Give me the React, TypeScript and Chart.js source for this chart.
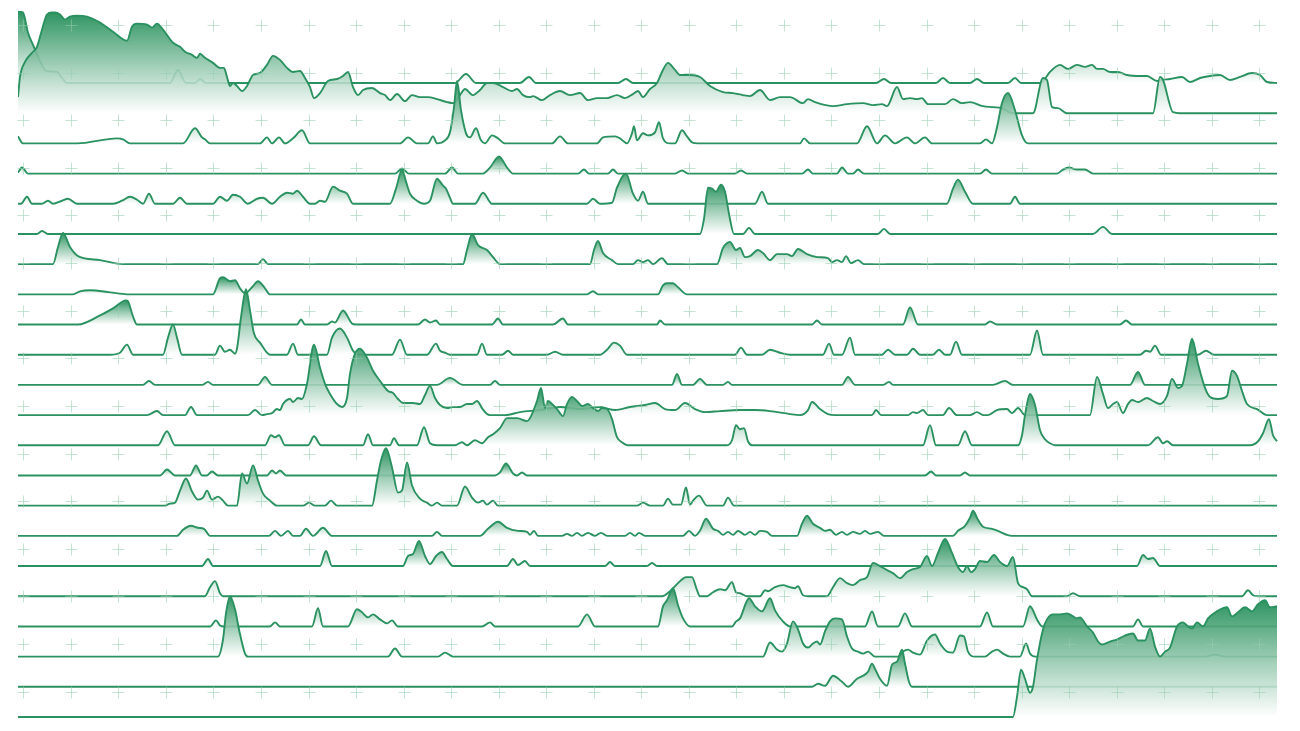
import { useEffect, useRef } from "react";
import { Chart, registerables } from "chart.js";

Chart.register(...registerables);

// Each series: flat list of [time, value] pairs (value = height above its own baseline)
const series00 = [1.8,71, 2.3,70, 2.8,50, 3.3,38, 4.0,22, 4.6,12, 5.7,11, 6.2,5, 6.7,0, 17.0,0, 17.8,13, 18.6,0, 19.5,0, 20.0,4, 20.6,0, 45.5,0, 46.6,9, 47.6,0, 52.0,0, 52.9,6, 53.6,0, 61.8,0, 62.6,4, 63.3,0, 87.6,0, 88.4,4, 89.1,0, 93.6,0, 94.3,5, 95.0,0, 97.0,0, 97.7,4, 98.4,0, 100.8,0, 101.5,5, 102.1,0, 104.0,0, 104.4,3, 105.0,11, 106.0,18, 106.8,14, 107.7,18, 108.5,16, 109.2,18, 109.7,14, 110.3,14, 111.0,11, 111.8,11, 112.7,8, 114.0,7, 114.7,7, 115.7,2, 116.2,3, 117.0,4, 118.2,6, 119.0,1, 120.0,5, 121.0,7, 122.0,8, 123.0,3, 124.0,6, 125.2,10, 126.0,8, 126.7,1, 127.7,0];
const series01 = [1.8,16, 2.0,36, 2.5,51, 3.2,60, 3.7,66, 4.2,83, 4.7,98, 5.2,100, 5.5,100, 6.0,98, 6.5,93, 7.0,96, 7.7,97, 8.7,96, 10.0,90, 11.3,81, 12.7,72, 13.2,86, 13.7,89, 14.7,88, 15.2,85, 15.7,89, 16.3,83, 17.3,70, 18.0,66, 18.5,61, 19.2,58, 19.7,55, 20.0,59, 20.5,55, 21.3,50, 22.0,45, 22.4,45, 22.7,36, 23.0,27, 23.3,30, 23.7,27, 24.2,22, 24.7,27, 25.3,38, 26.0,40, 26.7,48, 27.3,57, 28.0,53, 28.7,45, 29.3,41, 30.0,42, 30.5,35, 31.0,26, 31.4,15, 32.0,20, 32.8,32, 33.7,34, 34.3,37, 34.8,41, 35.3,26, 35.8,18, 36.3,23, 37.2,25, 38.0,20, 38.5,18, 39.0,13, 39.7,19, 40.5,12, 41.2,18, 42.0,16, 42.8,16, 43.7,14, 44.7,11, 45.3,10, 46.0,18, 46.5,24, 47.3,18, 48.0,23, 48.7,30, 49.3,30, 50.3,26, 51.2,22, 51.7,24, 52.3,18, 53.0,16, 53.3,17, 54.2,13, 55.0,18, 56.0,22, 57.0,18, 58.0,20, 58.8,13, 59.7,15, 60.7,15, 61.7,18, 62.5,15, 63.3,19, 63.8,22, 64.3,16, 65.0,24, 65.7,30, 66.2,41, 66.8,50, 67.5,43, 68.0,38, 69.0,38, 70.0,36, 71.0,27, 72.3,21, 73.3,20, 74.3,18, 75.0,17, 76.0,23, 77.0,13, 78.0,16, 79.0,16, 80.3,10, 80.8,14, 81.5,11, 83.3,7, 84.7,9, 86.3,10, 87.3,8, 88.2,9, 88.7,7, 89.7,26, 90.3,14, 91.0,15, 91.7,14, 92.2,15, 92.8,9, 94.5,9, 95.3,14, 96.2,10, 97.0,11, 98.3,7, 99.3,6, 100.2,5, 101.2,0, 103.3,0, 104.3,35, 104.7,33, 105.2,6, 105.8,5, 106.7,0, 115.3,0, 116.0,36, 116.3,33, 117.3,1, 118.0,0, 127.7,0];
const series02 = [1.8,7, 2.3,0, 7.7,0, 11.7,5, 12.3,4, 13.0,0, 18.3,0, 19.5,15, 20.2,6, 20.5,4, 21.0,0, 26.0,0, 26.7,6, 27.2,0, 27.9,6, 28.5,0, 29.3,5, 30.2,13, 31.0,0, 40.0,0, 40.8,6, 41.7,0, 42.8,0, 43.3,7, 43.7,0, 44.5,3, 45.0,11, 45.4,36, 45.7,62, 46.1,33, 46.6,10, 47.0,6, 47.6,15, 48.1,3, 48.5,0, 49.2,8, 49.8,5, 50.5,0, 55.2,0, 56.0,7, 56.8,0, 59.7,0, 60.3,6, 61.5,7, 62.0,5, 62.7,0, 63.2,10, 63.4,17, 63.7,3, 64.3,10, 64.8,8, 65.5,11, 65.9,21, 66.3,5, 67.0,0, 67.5,0, 68.2,13, 68.7,7, 69.2,1, 69.8,0, 80.0,0, 80.4,5, 81.0,0, 85.7,0, 86.7,17, 87.7,0, 88.5,8, 89.5,0, 90.7,6, 91.5,0, 92.5,6, 93.2,0, 98.0,0, 98.6,4, 99.2,0, 99.7,16, 100.2,40, 100.8,50, 101.5,33, 102.2,8, 102.8,0, 127.7,0];
const series03 = [1.8,1, 2.2,6, 2.8,0, 39.5,0, 40.2,5, 40.9,0, 44.5,0, 45.2,6, 45.8,0, 48.3,0, 49.0,6, 49.9,17, 50.7,6, 51.3,0, 57.8,0, 58.4,4, 58.9,0, 60.8,0, 61.3,4, 61.8,0, 67.5,0, 68.2,3, 68.8,0, 73.5,0, 74.1,3, 74.7,0, 80.2,0, 80.8,4, 81.3,0, 83.7,0, 84.2,6, 84.8,0, 85.3,0, 85.8,4, 86.4,0, 98.0,0, 98.6,4, 99.2,0, 105.7,0, 106.3,4, 106.9,6, 107.7,4, 108.5,4, 109.3,0, 127.7,0];
const series04 = [1.8,0, 2.1,0, 2.7,7, 3.2,0, 4.2,0, 4.8,3, 5.3,0, 6.2,3, 6.8,5, 7.7,0, 11.3,0, 12.2,3, 13.0,7, 13.7,4, 14.3,0, 14.9,10, 15.5,0, 17.3,0, 18.0,6, 18.7,0, 21.3,0, 22.0,7, 22.7,3, 23.3,9, 24.0,7, 24.8,0, 25.7,5, 26.3,6, 27.2,0, 28.0,7, 28.7,11, 29.3,10, 29.7,13, 30.3,7, 31.0,0, 31.5,0, 32.0,3, 32.5,2, 33.3,17, 34.0,13, 34.7,10, 35.3,0, 39.0,0, 39.6,15, 40.2,34, 40.6,22, 41.0,10, 41.7,3, 42.4,0, 43.0,3, 43.7,25, 44.0,22, 44.3,18, 44.6,15, 45.0,6, 45.3,0, 47.5,0, 48.3,11, 49.2,0, 58.7,0, 59.3,5, 60.0,0, 61.2,1, 61.7,16, 62.6,30, 63.3,10, 63.8,3, 64.3,12, 64.8,0, 75.5,0, 76.2,12, 76.8,0, 94.7,0, 95.3,15, 95.8,24, 96.5,12, 97.3,0, 101.0,0, 101.5,7, 102.0,0, 127.7,0];
const series05 = [1.8,0, 3.7,0, 4.2,3, 4.8,0, 70.0,0, 70.4,15, 70.8,46, 71.2,45, 71.6,42, 72.1,49, 72.5,42, 72.9,20, 73.4,0, 74.3,0, 74.9,6, 75.5,0, 87.8,0, 88.4,5, 89.0,0, 109.3,0, 110.3,7, 111.2,0, 127.7,0];
const series06 = [1.8,0, 5.3,0, 5.8,17, 6.3,31, 7.0,17, 7.8,8, 10.0,4, 12.3,0, 25.8,0, 26.3,5, 26.8,0, 46.3,0, 46.7,14, 47.2,30, 47.8,19, 48.7,14, 49.3,7, 50.0,0, 59.0,0, 59.4,14, 59.8,23, 60.3,11, 61.2,4, 61.8,0, 63.3,0, 63.8,4, 64.3,2, 64.8,4, 65.3,0, 66.2,6, 66.8,0, 71.7,0, 72.3,16, 73.0,22, 73.6,14, 74.0,16, 74.5,7, 75.0,8, 75.8,14, 76.3,11, 77.0,4, 77.7,10, 78.7,10, 79.2,8, 79.8,15, 80.7,10, 81.7,7, 82.8,6, 83.2,2, 83.7,4, 84.2,2, 84.6,8, 85.1,1, 85.8,4, 86.4,0, 127.7,0];
const series07 = [1.8,0, 7.3,0, 8.0,3, 9.0,4, 11.0,2, 12.7,0, 21.3,0, 22.0,16, 22.3,17, 23.0,13, 23.5,14, 24.0,6, 24.5,1, 25.2,7, 25.8,13, 26.5,6, 27.0,0, 58.7,0, 59.3,3, 59.8,0, 65.8,0, 66.3,9, 66.7,11, 67.3,11, 67.8,7, 68.7,0, 127.7,0];
const series08 = [1.8,0, 7.8,0, 10.0,9, 11.3,16, 12.6,24, 12.8,23, 13.3,8, 13.7,0, 29.7,0, 30.1,5, 30.5,0, 32.7,0, 33.2,3, 33.5,2, 34.3,14, 35.2,1, 35.6,0, 41.8,0, 42.5,5, 43.0,2, 43.6,4, 44.0,0, 49.2,0, 49.8,6, 50.3,0, 55.3,0, 56.3,6, 56.8,0, 65.7,0, 66.0,4, 66.5,0, 81.2,0, 81.7,4, 82.2,0, 90.3,0, 91.0,17, 91.8,0, 98.5,0, 99.0,3, 99.7,0, 112.0,0, 112.6,4, 113.2,0, 127.7,0];
const series09 = [1.8,0, 11.0,0, 12.0,2, 12.7,10, 13.3,0, 16.3,0, 16.8,17, 17.3,30, 17.7,17, 18.2,0, 21.5,0, 22.0,9, 22.5,3, 23.0,5, 23.5,1, 23.7,6, 24.1,37, 24.6,65, 25.0,44, 25.4,21, 26.0,12, 26.7,2, 27.0,0, 28.7,0, 29.3,11, 29.8,0, 32.7,0, 33.2,17, 34.0,26, 34.7,17, 35.3,4, 36.0,0, 39.2,0, 40.0,15, 40.7,0, 42.7,0, 43.6,11, 44.0,4, 44.5,2, 45.0,0, 47.7,0, 48.2,11, 48.7,0, 50.2,0, 50.8,4, 51.3,0, 54.7,0, 55.5,3, 56.3,0, 60.0,0, 60.7,5, 61.4,12, 62.0,9, 62.7,0, 73.5,0, 74.1,7, 74.7,0, 76.2,0, 77.0,5, 78.0,2, 79.0,0, 82.3,0, 82.9,11, 83.4,0, 84.2,0, 85.0,17, 85.5,0, 88.2,0, 88.8,5, 89.5,0, 90.7,0, 91.3,6, 92.0,0, 93.3,0, 93.9,5, 94.5,0, 95.0,0, 95.6,13, 96.2,0, 103.0,0, 103.7,24, 104.3,0, 114.0,0, 114.6,4, 115.0,3, 115.5,9, 116.1,0, 119.8,0, 120.6,4, 121.4,0, 127.7,0];
const series10 = [1.8,0, 14.3,0, 14.9,4, 15.5,0, 20.2,0, 20.8,3, 21.3,0, 25.8,0, 26.5,8, 27.2,0, 43.7,0, 45.0,7, 46.3,0, 49.0,0, 49.5,4, 50.0,0, 67.2,0, 67.7,11, 68.2,0, 69.3,0, 70.0,6, 70.7,0, 72.3,0, 72.8,3, 73.2,0, 84.2,0, 84.8,8, 85.5,0, 88.3,0, 88.9,3, 89.3,0, 99.3,0, 100.5,4, 101.3,0, 113.0,0, 113.8,13, 114.5,0, 127.7,0];
const series11 = [1.8,0, 14.7,0, 15.7,4, 16.3,0, 18.5,0, 19.1,8, 19.7,0, 24.8,0, 25.5,5, 26.2,0, 26.7,1, 27.2,2, 27.7,6, 28.0,5, 28.3,11, 29.0,16, 29.3,13, 29.8,17, 30.2,16, 30.7,31, 31.4,70, 32.0,47, 32.5,31, 33.0,21, 33.7,11, 34.2,8, 34.7,17, 35.0,41, 35.5,61, 36.0,66, 36.7,57, 37.3,44, 38.0,34, 38.8,24, 39.3,22, 39.8,16, 40.3,12, 41.3,12, 42.0,11, 42.5,20, 43.0,29, 43.5,17, 44.0,10, 44.7,7, 45.3,8, 46.0,8, 46.7,11, 47.2,11, 47.7,14, 48.2,7, 48.7,1, 49.0,0, 50.5,0, 52.0,3, 54.0,5, 56.0,8, 58.0,6, 60.0,8, 61.5,5, 63.0,8, 64.5,10, 65.5,12, 66.5,6, 67.5,5, 68.5,12, 69.5,6, 70.5,3, 72.0,4, 74.0,5, 75.5,5, 77.0,4, 79.0,1, 80.0,0, 80.8,5, 81.2,13, 82.0,6, 82.8,1, 83.5,0, 87.2,0, 87.6,5, 88.1,0, 90.8,0, 91.3,3, 91.7,2, 92.3,5, 92.8,0, 94.3,0, 94.9,7, 95.7,0, 97.0,0, 97.7,3, 98.3,0, 98.8,0, 99.7,5, 100.7,6, 101.2,2, 101.8,7, 102.5,0, 109.0,0, 109.7,38, 110.3,21, 110.8,7, 111.3,11, 111.7,13, 112.3,2, 112.8,11, 113.2,15, 113.8,13, 114.7,17, 115.3,14, 116.0,11, 116.7,19, 117.2,36, 117.8,27, 118.2,29, 118.7,51, 119.2,76, 119.8,51, 120.5,27, 121.0,18, 121.8,16, 122.7,19, 123.2,44, 123.7,39, 124.2,24, 124.7,11, 125.7,6, 126.7,0, 127.7,0];
const series12 = [1.8,0, 15.8,0, 16.7,14, 17.5,0, 26.5,0, 27.1,10, 27.5,8, 27.9,10, 28.5,0, 30.8,0, 31.4,9, 32.1,0, 36.3,0, 36.8,11, 37.3,0, 39.0,0, 39.4,7, 39.9,0, 41.7,0, 42.4,18, 43.0,2, 43.7,0, 45.5,0, 46.2,3, 46.7,0, 47.5,5, 48.2,2, 48.8,8, 49.3,11, 50.0,17, 50.7,27, 51.7,27, 52.7,24, 53.0,27, 53.7,44, 54.1,57, 54.5,37, 54.8,44, 55.2,41, 55.7,36, 56.3,29, 56.7,41, 57.2,48, 57.7,44, 58.2,39, 58.8,41, 59.3,37, 59.8,34, 60.2,37, 60.7,36, 61.2,26, 61.7,8, 62.2,3, 62.8,0, 72.7,0, 73.2,5, 73.6,20, 74.0,16, 74.4,17, 74.8,4, 75.2,0, 92.3,0, 93.0,20, 93.6,0, 95.8,0, 96.5,14, 97.2,0, 101.8,0, 102.2,10, 102.5,30, 103.0,51, 103.5,40, 104.0,15, 104.5,6, 105.0,2, 105.5,0, 114.8,0, 115.8,8, 116.3,2, 116.7,4, 117.3,0, 125.0,0, 125.8,4, 126.3,12, 126.9,26, 127.3,10, 127.7,4];
const series13 = [1.8,0, 16.0,0, 16.7,6, 17.5,0, 19.0,0, 19.6,10, 20.2,0, 20.7,0, 21.2,4, 21.8,0, 26.7,0, 27.2,5, 27.6,2, 28.0,5, 28.6,0, 49.5,0, 50.0,3, 50.6,12, 51.3,2, 51.7,0, 52.2,3, 52.7,0, 92.5,0, 93.1,4, 93.6,0, 96.0,0, 96.5,3, 97.0,0, 127.7,0];
const series14 = [1.8,0, 16.5,0, 17.0,2, 17.5,3, 18.0,15, 18.6,27, 19.2,14, 19.8,6, 20.3,8, 20.7,15, 21.2,6, 21.8,9, 22.3,5, 22.8,0, 23.7,0, 24.2,32, 24.7,22, 25.3,40, 25.8,25, 26.3,12, 27.0,5, 27.7,0, 30.3,0, 30.9,3, 31.5,0, 32.5,0, 33.1,5, 33.7,0, 37.2,0, 37.7,25, 38.1,45, 38.6,57, 39.2,38, 39.8,13, 40.2,15, 40.7,43, 41.2,20, 42.0,7, 42.7,3, 43.2,0, 43.7,3, 44.2,0, 45.7,0, 46.5,19, 47.2,8, 47.8,3, 48.3,5, 48.7,1, 49.3,5, 49.8,0, 63.7,0, 64.3,3, 65.0,0, 66.3,0, 66.8,7, 67.3,1, 68.1,1, 68.6,18, 69.0,1, 69.3,5, 69.9,10, 70.7,0, 72.3,0, 72.8,8, 73.4,0, 127.7,0];
const series15 = [1.8,0, 17.7,0, 18.3,6, 19.1,10, 19.8,8, 20.4,7, 21.0,0, 26.9,0, 27.5,5, 28.1,0, 28.8,5, 29.3,0, 30.0,0, 30.6,7, 31.3,0, 32.3,8, 33.2,0, 43.2,0, 43.7,4, 44.2,0, 48.0,0, 48.8,7, 49.8,14, 50.7,8, 51.8,5, 52.7,4, 53.0,1, 53.4,5, 53.8,0, 56.2,0, 56.7,2, 57.2,0, 57.7,3, 58.2,0, 58.8,3, 59.5,0, 60.1,3, 60.7,0, 62.5,0, 63.0,3, 63.5,0, 63.9,3, 64.5,0, 68.3,0, 68.9,5, 69.5,0, 70.0,5, 70.6,17, 71.3,7, 71.8,5, 72.3,1, 72.8,4, 73.3,1, 73.8,5, 74.5,1, 75.0,4, 75.5,1, 76.0,5, 76.7,4, 77.2,0, 79.7,0, 80.2,12, 80.7,20, 81.3,12, 82.0,8, 82.5,5, 83.0,6, 83.6,1, 84.2,4, 84.7,1, 85.3,4, 86.0,2, 86.5,5, 87.0,2, 87.8,4, 88.4,0, 95.3,0, 95.8,5, 96.5,10, 97.0,18, 97.3,25, 97.8,16, 98.3,9, 99.2,7, 100.0,4, 100.7,1, 101.2,0, 127.7,0];
const series16 = [1.8,0, 20.2,0, 20.8,7, 21.3,0, 32.0,0, 32.6,15, 33.2,0, 40.3,0, 40.8,10, 41.3,12, 41.9,25, 42.5,10, 43.0,2, 43.6,10, 44.2,14, 44.7,7, 45.3,0, 50.7,0, 51.3,7, 51.8,1, 52.5,5, 53.0,0, 60.5,0, 61.0,4, 61.5,0, 64.7,0, 65.2,3, 65.7,0, 113.7,0, 114.3,11, 114.8,7, 115.3,8, 116.0,0, 127.7,0];
const series17 = [1.8,0, 20.5,0, 21.0,9, 21.5,15, 22.0,3, 22.3,0, 66.2,0, 67.0,5, 68.0,15, 68.6,19, 69.2,19, 69.7,6, 70.0,0, 70.7,0, 71.3,4, 72.0,7, 72.5,6, 73.2,14, 73.6,4, 74.0,3, 74.7,0, 76.0,0, 76.5,6, 76.8,5, 77.5,9, 78.3,11, 79.0,9, 79.5,8, 79.8,10, 80.3,1, 80.8,0, 82.7,0, 83.3,9, 84.0,18, 84.7,13, 85.3,11, 86.0,16, 86.7,19, 87.3,33, 88.0,30, 88.7,26, 89.3,23, 90.0,18, 90.7,24, 91.3,27, 92.0,29, 92.7,40, 93.2,30, 93.8,43, 94.5,57, 95.2,43, 95.8,29, 96.3,24, 96.7,30, 97.1,24, 97.5,27, 98.0,35, 98.7,34, 99.4,41, 100.0,34, 100.7,30, 101.3,39, 101.8,13, 102.3,9, 102.7,7, 103.2,0, 106.7,0, 107.3,3, 108.0,0, 124.2,0, 124.8,6, 125.3,1, 125.8,0, 127.7,0];
const series18 = [1.8,0, 21.0,0, 21.6,6, 22.0,1, 22.4,0, 27.0,0, 27.5,4, 28.0,0, 31.2,0, 31.8,18, 32.3,0, 34.8,0, 35.7,17, 36.2,14, 36.8,9, 37.3,12, 38.0,7, 38.7,3, 39.2,6, 39.8,0, 48.2,0, 49.0,4, 49.5,0, 57.8,0, 58.7,12, 59.5,0, 65.8,0, 66.3,20, 66.7,26, 67.3,38, 67.8,21, 68.3,8, 69.0,0, 73.2,0, 73.6,5, 74.0,8, 74.9,28, 75.5,20, 76.2,15, 77.0,28, 77.5,16, 78.3,5, 79.0,0, 86.5,0, 87.2,15, 87.8,0, 89.8,0, 90.5,13, 91.2,0, 98.0,0, 98.7,14, 99.3,0, 102.3,0, 103.0,20, 103.7,7, 104.2,0, 113.3,0, 113.8,7, 114.3,0, 127.7,0];
const series19 = [1.8,0, 21.8,0, 22.3,17, 22.6,43, 23.0,60, 23.5,47, 23.9,27, 24.5,3, 24.8,0, 38.8,0, 39.5,8, 40.2,0, 43.8,0, 44.5,4, 45.3,0, 76.3,0, 77.0,14, 77.7,7, 78.2,5, 78.7,13, 79.3,35, 79.8,27, 80.3,13, 80.8,9, 81.3,13, 81.7,15, 82.0,12, 82.5,25, 83.0,35, 83.5,38, 84.2,37, 84.7,20, 85.2,8, 85.8,5, 86.3,3, 86.8,5, 87.5,0, 89.8,0, 90.3,5, 90.8,7, 91.3,4, 92.0,2, 92.7,16, 93.5,22, 94.0,13, 94.7,5, 95.3,4, 96.0,21, 96.4,20, 96.8,5, 97.5,0, 98.5,0, 99.2,5, 99.7,7, 100.3,3, 101.0,0, 102.0,0, 102.6,13, 103.0,3, 103.5,0, 120.5,0, 121.5,2, 122.5,0, 127.7,0];
const series20 = [1.8,0, 81.2,0, 81.8,3, 82.5,1, 83.3,11, 84.2,5, 84.8,0, 85.7,8, 86.3,11, 86.8,15, 87.2,23, 87.5,18, 88.0,8, 88.7,1, 89.2,22, 89.7,25, 90.2,37, 90.5,23, 90.9,5, 91.2,0, 127.7,0];
const series21 = [1.8,0, 101.3,0, 101.7,20, 102.1,47, 102.5,38, 103.0,24, 103.3,30, 103.7,57, 104.3,87, 104.7,97, 105.3,102, 106.0,102, 106.7,103, 107.3,100, 107.7,98, 108.0,99, 108.7,90, 109.3,84, 109.8,75, 110.2,72, 111.0,75, 111.7,77, 112.3,80, 112.8,82, 113.3,83, 113.8,76, 114.5,76, 115.0,88, 115.5,70, 116.0,60, 116.5,65, 117.0,69, 117.7,90, 118.3,94, 118.8,90, 119.2,88, 119.7,94, 120.3,90, 120.8,98, 121.7,105, 122.7,109, 123.2,100, 123.8,104, 124.5,109, 125.2,105, 125.8,112, 126.5,116, 127.0,109, 127.7,110];

const SERIES = [
  series00, series01, series02, series03, series04, series05, series06, series07,
  series08, series09, series10, series11, series12, series13, series14, series15,
  series16, series17, series18, series19, series20, series21,
];

const RIDGE_STEP = 30; // vertical spacing between series baselines (value units)
const X_MIN = 1.8;
const X_MAX = 127.8;

const LINE_COLOR = "#2a9160";

const crossPlugin = {
  id: "crossGrid",
  afterDatasetsDraw(chart: any) {
    const ctx = chart.ctx as CanvasRenderingContext2D;
    ctx.save();
    ctx.strokeStyle = "rgba(150,205,175,0.55)";
    ctx.lineWidth = 1;
    const arm = 6;
    for (let c = 0; c < 27; c++) {
      for (let r = 0; r < 15; r++) {
        const x = Math.round(23.3 + c * 47.54) + 0.5;
        const y = Math.round(25 + r * 47.62) + 0.5;
        ctx.beginPath();
        ctx.moveTo(x - arm, y);
        ctx.lineTo(x + arm, y);
        ctx.moveTo(x, y - arm);
        ctx.lineTo(x, y + arm);
        ctx.stroke();
      }
    }
    ctx.restore();
  },
};

export default function App() {
  const ref = useRef<HTMLCanvasElement | null>(null);

  useEffect(() => {
    document.body.style.margin = "0";
    const canvas = ref.current;
    if (!canvas) return;
    const n = SERIES.length;
    const datasets = SERIES.map((flat, i) => {
      const offset = (n - 1 - i) * RIDGE_STEP;
      const pts: { x: number; y: number }[] = [];
      let maxV = 0;
      for (let k = 0; k < flat.length; k += 2) {
        pts.push({ x: flat[k], y: flat[k + 1] + offset });
        if (flat[k + 1] > maxV) maxV = flat[k + 1];
      }
      return {
        label: "s" + i,
        data: pts,
        borderColor: LINE_COLOR,
        borderWidth: 1.9,
        pointRadius: 0,
        cubicInterpolationMode: "monotone" as const,
        fill: { value: offset },
        order: n - 1 - i,
        backgroundColor: (c: any) => {
          const chart = c.chart;
          const area = chart.chartArea;
          if (!area) return "rgba(0,0,0,0)";
          const ys = chart.scales.y;
          const top = ys.getPixelForValue(offset + Math.max(maxV, 1));
          const bot = ys.getPixelForValue(offset);
          const g = chart.ctx.createLinearGradient(0, top, 0, bot);
          g.addColorStop(0, "rgba(30,140,85,0.93)");
          g.addColorStop(1, "rgba(255,255,255,0.85)");
          return g;
        },
      };
    });

    const chart = new Chart(canvas, {
      type: "line",
      data: { datasets },
      options: {
        animation: false,
        responsive: false,
        maintainAspectRatio: false,
        layout: { padding: { left: 18, right: 22, top: 11, bottom: 5 } },
        scales: {
          x: { type: "linear", min: X_MIN, max: X_MAX, display: false },
          y: { type: "linear", min: -8.94, max: 701.55, display: false },
        },
        plugins: { legend: { display: false }, tooltip: { enabled: false } },
        events: [],
      },
      plugins: [crossPlugin],
    } as any);
    return () => chart.destroy();
  }, []);

  return (
    <div style={{ width: 1300, height: 731, background: "#fff" }}>
      <canvas ref={ref} width={1300} height={731} style={{ display: "block" }} />
    </div>
  );
}
